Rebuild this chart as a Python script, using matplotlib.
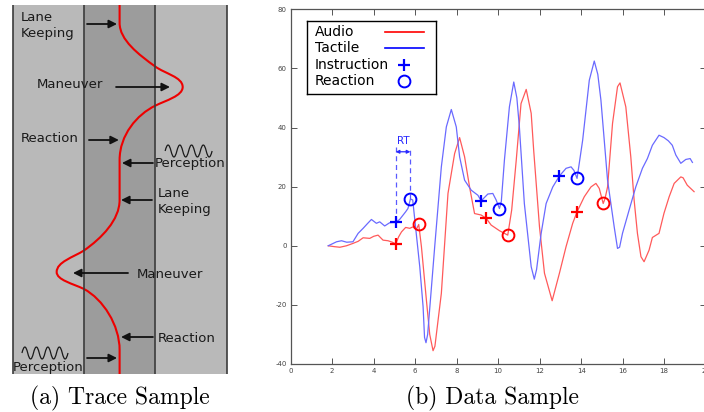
import matplotlib
matplotlib.use("Agg")
import matplotlib.pyplot as plt
from matplotlib.patches import PathPatch, Rectangle
from matplotlib.path import Path

plt.rcParams["axes.unicode_minus"] = False

# --- (b) data sample: lateral position vs time ---
tactile_t = [1.81, 2.21, 2.45, 2.7, 3.0, 3.25, 3.49, 3.7, 3.89, 4.13, 4.29, 4.53, 4.77,
             5.06, 5.25, 5.54, 5.65, 5.77, 5.88, 6.22, 6.38, 6.45, 6.52, 6.6, 6.94,
             7.26, 7.5, 7.74, 7.98, 8.14, 8.38, 8.7, 9.02, 9.18, 9.5, 9.74, 9.9, 10.06,
             10.15, 10.3, 10.54, 10.75, 10.9, 11.02, 11.26, 11.59, 11.74, 11.85, 12.07,
             12.31, 12.63, 12.95, 13.27, 13.51, 13.65, 13.8, 14.07, 14.39, 14.63, 14.8,
             14.95, 15.27, 15.59, 15.75, 15.85, 15.99, 16.31, 16.63, 16.95, 17.19, 17.43,
             17.75, 17.99, 18.2, 18.39, 18.56, 18.8, 19.04, 19.25, 19.36]
tactile_y = [0, 1.35, 1.7, 1.2, 1.35, 4.2, 5.9, 7.5, 8.9, 7.6, 8.1, 6.7, 7.8,
             7.9, 8.9, 11.5, 12.6, 15.8, 15.5, -7.1, -20.6, -31, -32.8, -30, -0.3,
             26.7, 40.2, 46.1, 40.2, 30.1, 22.2, 18.8, 17.1, 15.2, 17.5, 17.7, 15.5, 12.6,
             15, 29, 47, 55.4, 50, 40.2, 14.3, -7.1, -11.3, -8, 4.2,
             14.3, 19.9, 23.6, 26.2, 26.7, 25.5, 22.8, 35.7, 56, 62.5, 58,
             49.3, 22.2, 6.4, -0.9, -0.5, 4.2, 12.1, 19.9, 26.2, 29.5, 34,
             37.4, 36.6, 35.5, 34, 30.7, 27.9, 29.2, 29.5, 28.2]

audio_t = [1.81, 2.1, 2.37, 2.69, 3.0, 3.25, 3.49, 3.81, 4.0, 4.21, 4.45, 4.69, 4.9,
           5.06, 5.2, 5.34, 5.54, 5.74, 5.89, 6.05, 6.17, 6.3, 6.54, 6.7, 6.86, 6.95,
           7.26, 7.58, 7.9, 8.14, 8.38, 8.62, 8.86, 9.18, 9.42, 9.66, 10.06, 10.3, 10.46,
           10.65, 10.87, 11.1, 11.35, 11.59, 11.71, 11.99, 12.23, 12.6, 12.95, 13.27,
           13.59, 13.8, 14.15, 14.47, 14.71, 14.87, 15.06, 15.15, 15.27, 15.51, 15.75,
           15.87, 16.15, 16.39, 16.55, 16.71, 16.88, 17.03, 17.27, 17.43, 17.75, 17.99,
           18.24, 18.48, 18.8, 18.91, 19.11, 19.44]
audio_y = [0, -0.3, -0.5, 0, 0.8, 1.5, 2.7, 2.5, 3.2, 3.6, 1.9, 1.7, 1.2,
           0.6, 3, 4.7, 6.2, 5.9, 6.4, 5.5, 7.2, -0.3, -18.4, -30, -35.5, -34,
           -16.1, 17.7, 31.2, 36.6, 30.1, 19.9, 10.9, 10.4, 9.3, 7, 5.1, 4.2, 3.6,
           12.1, 29, 48.1, 52.9, 44.8, 32.3, 6.4, -9.3, -18.6, -9.3, -0.3,
           7.6, 11.5, 16.6, 19.9, 21.1, 19.4, 14.3, 16, 19.9, 41.4, 53.8,
           55.1, 47, 30.1, 15.5, 4.2, -3.7, -5.4, -1.5, 2.8, 4.2, 11,
           16.6, 21.1, 23.3, 23, 20.5, 18.3]

tactile_instr_t = [5.06, 9.18, 12.95]
tactile_instr_y = [7.9, 15.2, 23.6]
tactile_react_t = [5.77, 10.06, 13.8]
tactile_react_y = [15.8, 12.6, 22.8]
audio_instr_t = [5.06, 9.42, 13.8]
audio_instr_y = [0.6, 9.3, 11.5]
audio_react_t = [6.17, 10.46, 15.06]
audio_react_y = [7.2, 3.6, 14.3]

rt_top = 33.5
rt_arrow_y = 31.8

legend_labels = ["Audio", "Tactile", "Instruction", "Reaction"]

# --- (a) trace sample diagram: lanes are 1 unit wide, y runs down the road ---
trace_x = [1.5, 1.5, 1.5, 1.769, 2.0, 2.133, 2.385, 2.385, 2.385, 2.148, 2.0, 1.744, 1.5, 1.5,
           1.5, 1.5, 1.247, 1.0, 0.85, 0.617, 0.617, 0.617, 0.84, 1.0, 1.266, 1.5, 1.5, 1.5]
trace_y = [0, 18, 35, 49.7, 61.5, 68.6, 72, 82, 91, 95.4, 100.7, 109.5, 130, 155,
           195, 215, 233.2, 245.5, 252.2, 257, 267, 275, 278.5, 284, 294.1, 320, 345, 369]
trace_codes = ([Path.MOVETO, Path.LINETO] + [Path.CURVE4] * 12 + [Path.LINETO]
               + [Path.CURVE4] * 12 + [Path.LINETO])

# (text, x, y)
labels = [("Lane\nKeeping", 0.117, 20.5),
          ("Maneuver", 0.341, 80),
          ("Reaction", 0.117, 133),
          ("Perception", 1.997, 159),
          ("Lane\nKeeping", 2.04, 196.5),
          ("Maneuver", 1.744, 270),
          ("Reaction", 2.04, 333),
          ("Perception", 0.004, 362)]
# (x_from, x_to, y)
arrows = [(1.043, 1.464, 19), (1.45, 2.207, 82), (1.07, 1.49, 135), (1.968, 1.533, 158),
          (1.954, 1.52, 195), (1.618, 0.846, 268), (1.968, 1.52, 332), (1.043, 1.464, 353)]
# (x_start, x_end, y_center)
waves = [(2.139, 2.798, 146), (0.13, 0.776, 348)]


def wave_path(x0, x1, yc, amp=6.0, periods=4):
    verts, codes = [(x0, yc)], [Path.MOVETO]
    half = (x1 - x0) / (2 * periods)
    for i in range(2 * periods):
        sgn = -1 if i % 2 == 0 else 1
        verts += [(x0 + (i + 0.5) * half, yc + 2 * sgn * amp), (x0 + (i + 1) * half, yc)]
        codes += [Path.CURVE3, Path.CURVE3]
    return Path(verts, codes)


fig = plt.figure(figsize=(7.04, 4.12), dpi=100)

axl = fig.add_axes([12.7 / 704, 1 - 374 / 412, 213.8 / 704, 369 / 412])
axl.set_xlim(0, 3)
axl.set_ylim(369, 0)
axl.axis("off")
axl.add_patch(Rectangle((0, 0), 3, 369, fc="#b9b9b9", ec="none"))
axl.add_patch(Rectangle((1, 0), 1, 369, fc="#9c9c9c", ec="none"))
axl.vlines([0, 1, 2, 3], 0, 369, color="#3c3c3c", lw=1.2, clip_on=False)
axl.add_patch(PathPatch(Path(list(zip(trace_x, trace_y)), trace_codes),
                        fc="none", ec="#ee0000", lw=1.5))
for x0, x1, yc in waves:
    axl.add_patch(PathPatch(wave_path(x0, x1, yc), fc="none", ec="#1a1a1a", lw=0.9))
for x0, x1, y in arrows:
    axl.annotate("", xy=(x1, y), xytext=(x0, y),
                 arrowprops=dict(arrowstyle="-|>", color="#111111", lw=1.3,
                                 shrinkA=0, shrinkB=0, mutation_scale=12))
for txt, x, y in labels:
    axl.text(x, y, txt, ha="left", va="center", fontsize=9.5, color="#1a1a1a",
             linespacing=1.25)

ax = fig.add_axes([290.7 / 704, 1 - 364 / 412, 415 / 704, 354.7 / 412])
ax.plot(audio_t, audio_y, color="#ff5a5a", lw=0.9)
ax.plot(tactile_t, tactile_y, color="#6a6aff", lw=0.9)

ax.vlines([tactile_instr_t[0]], tactile_instr_y[0], rt_top, color="#5a5aff",
          lw=0.9, linestyles=(0, (4, 3)))
ax.vlines([tactile_react_t[0]], tactile_react_y[0], rt_top, color="#5a5aff",
          lw=0.9, linestyles=(0, (4, 3)))
ax.annotate("", xy=(tactile_react_t[0], rt_arrow_y), xytext=(tactile_instr_t[0], rt_arrow_y),
            arrowprops=dict(arrowstyle="<|-|>", color="#2a2aff", lw=0.9,
                            shrinkA=0, shrinkB=0, mutation_scale=5))
ax.text((tactile_instr_t[0] + tactile_react_t[0]) / 2, 35.6, "RT", color="#2a2aff",
        fontsize=7.5, ha="center", va="center")

ax.plot(tactile_instr_t, tactile_instr_y, ls="none", marker="+", ms=9, mew=1.6, color="#0000ff")
ax.plot(tactile_react_t, tactile_react_y, ls="none", marker="o", ms=8.5, mew=1.4,
        mfc="none", mec="#0000ff")
ax.plot(audio_instr_t, audio_instr_y, ls="none", marker="+", ms=9, mew=1.6, color="#ff0000")
ax.plot(audio_react_t, audio_react_y, ls="none", marker="o", ms=8.5, mew=1.4,
        mfc="none", mec="#ff0000")

ax.set_xlim(0, 20)
ax.set_ylim(-40, 80)
ax.set_xticks(range(0, 21, 2))
ax.set_yticks(range(-40, 81, 20))
ax.tick_params(direction="in", top=True, right=True, length=4, width=0.7,
               labelsize=5, labelcolor="#444444", color="#555555", pad=3)
for sp in ax.spines.values():
    sp.set_color("#555555")
    sp.set_linewidth(0.9)

# legend box: text column on the left, sample on the right (MATLAB style)
axg = fig.add_axes([307.3 / 704, 1 - 94.3 / 412, 128.7 / 704, 73.6 / 412])
axg.set_xlim(0, 128.7)
axg.set_ylim(73.6, 0)
axg.set_xticks([])
axg.set_yticks([])
for sp in axg.spines.values():
    sp.set_color("black")
    sp.set_linewidth(1.0)
row_y = [11, 27.3, 44, 60.3]
for lab, y in zip(legend_labels, row_y):
    axg.text(7.7, y, lab, ha="left", va="center", fontsize=10, color="black")
axg.plot([78, 116.7], [row_y[0]] * 2, color="#ff0000", lw=1.2)
axg.plot([78, 116.7], [row_y[1]] * 2, color="#0000ff", lw=1.2)
axg.plot([96.4], [row_y[2]], ls="none", marker="+", ms=9, mew=1.6, color="#0000ff")
axg.plot([96.4], [row_y[3]], ls="none", marker="o", ms=8.5, mew=1.4, mfc="none", mec="#0000ff")

fig.text(120 / 704, 1 - 404 / 412, "(a) Trace Sample", family="cmr10", fontsize=17,
         ha="center", va="baseline")
fig.text(492.4 / 704, 1 - 404 / 412, "(b) Data Sample", family="cmr10", fontsize=17,
         ha="center", va="baseline")

fig.savefig("out.png", dpi=100)
